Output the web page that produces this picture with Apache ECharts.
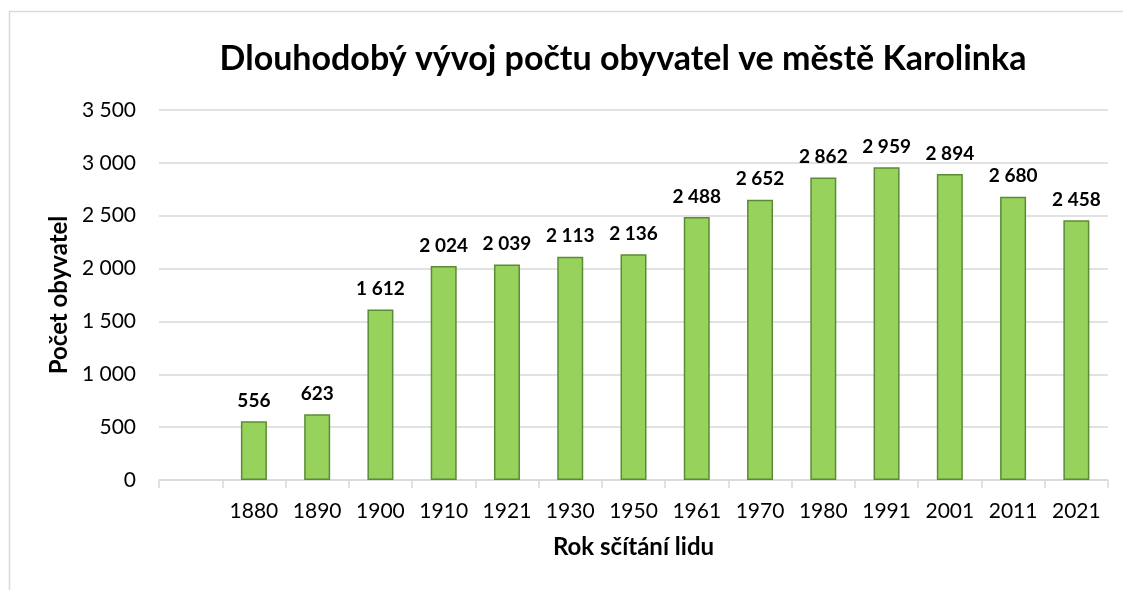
<!DOCTYPE html>
<html>
<head>
<meta charset="utf-8">
<script src="https://cdn.jsdelivr.net/npm/echarts@6/dist/echarts.min.js"></script>
<style>
html,body{margin:0;padding:0;background:#fff;}
#chart{width:1123px;height:590px;}
</style>
</head>
<body>
<div id="chart"></div>
<script>
const titleText = 'Dlouhodobý vývoj počtu obyvatel ve městě Karolinka';
const xAxisName = 'Rok sčítání lidu';
const yAxisName = 'Počet obyvatel';
const years = ['', '1880', '1890', '1900', '1910', '1921', '1930', '1950', '1961', '1970', '1980', '1991', '2001', '2011', '2021'];
const population = ['-', 556, 623, 1612, 2024, 2039, 2113, 2136, 2488, 2652, 2862, 2959, 2894, 2680, 2458];
const yTicks = [0, 500, 1000, 1500, 2000, 2500, 3000, 3500];

function fmt(v) {
  return String(v).replace(/\B(?=(\d{3})+(?!\d))/g, ' ');
}

const FONT = 'Lato, "Open Sans", sans-serif';
const chart = echarts.init(document.getElementById('chart'));
chart.setOption({
  animation: false,
  backgroundColor: '#ffffff',
  textStyle: { fontFamily: FONT },
  graphic: [{
    type: 'rect',
    shape: { x: 9.5, y: 11.5, width: 1200, height: 700 },
    style: { fill: 'none', stroke: '#d9d9d9', lineWidth: 1.5 },
    silent: true, z: -10
  }],
  title: {
    text: titleText,
    left: 618, textAlign: 'center',
    top: 37,
    textStyle: { fontFamily: FONT, fontSize: 34, fontWeight: 'bold', color: '#000' }
  },
  grid: { left: 159, right: 15, top: 110, bottom: 110, containLabel: false },
  xAxis: {
    type: 'category',
    data: years,
    name: xAxisName,
    nameLocation: 'middle',
    nameGap: 55,
    nameTextStyle: { fontFamily: FONT, fontSize: 24, fontWeight: 'bold', color: '#000' },
    axisLine: { lineStyle: { color: '#d9d9d9', width: 1.5 } },
    axisTick: { show: true, length: 8, lineStyle: { color: '#d9d9d9', width: 1.5 } },
    axisLabel: { fontFamily: FONT, fontSize: 21, color: '#000', margin: 21, interval: 0 }
  },
  yAxis: {
    type: 'value',
    min: 0, max: 3500, interval: 500,
    name: yAxisName,
    nameLocation: 'middle',
    nameGap: 85,
    nameRotate: 90,
    nameTextStyle: { fontFamily: FONT, fontSize: 24, fontWeight: 'bold', color: '#000' },
    axisLine: { show: false },
    axisTick: { show: false },
    axisLabel: { fontFamily: FONT, fontSize: 21, color: '#000', margin: 23, formatter: v => fmt(v) },
    splitLine: { lineStyle: { color: '#d9d9d9', width: 1.5 } }
  },
  series: [{
    type: 'bar',
    data: population,
    barWidth: 26,
    itemStyle: { color: '#97d35c', borderColor: '#5b8c34', borderWidth: 1.5 },
    label: {
      show: true, position: 'top', distance: 11,
      fontFamily: FONT, fontSize: 19, fontWeight: 'bold', color: '#000',
      formatter: p => fmt(p.value)
    }
  }]
});
</script>
</body>
</html>
